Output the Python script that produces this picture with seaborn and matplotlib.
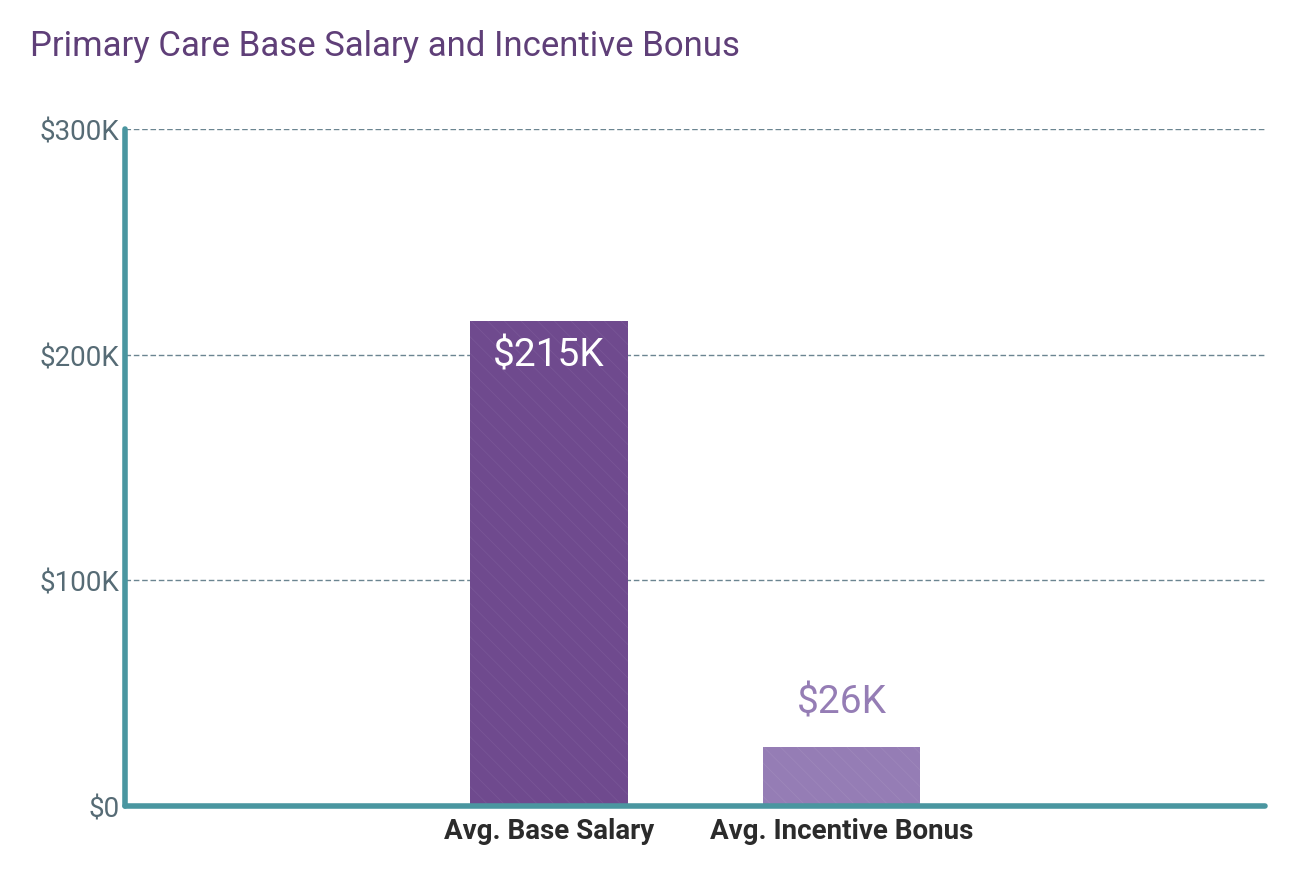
import matplotlib
matplotlib.use("Agg")
import matplotlib.pyplot as plt
import seaborn as sns
import pandas as pd

# --------------------------
# Data
# --------------------------

categories = ["Avg. Base Salary", "Avg. Incentive Bonus"]
values = [215000, 26000]
value_labels = ["$215K", "$26K"]
y_ticks = [0, 100000, 200000, 300000]
y_tick_labels = ["$0", "$100K", "$200K", "$300K"]

bar_colors = ["#6f4a8e", "#957db5"]
hatch_colors = ["#7a5797", "#9e88bb"]
teal = "#4a96a0"

df = pd.DataFrame({"Category": categories, "Value": values})

# --------------------------
# Style
# --------------------------

sns.set_style("white")
plt.rcParams["font.family"] = ["Roboto", "DejaVu Sans"]
plt.rcParams["hatch.linewidth"] = 0.5

fig = plt.figure(figsize=(12.9, 8.78), dpi=100)
ax = fig.add_axes([0.097, 0.081, 0.884, 0.771])

sns.barplot(
    data=df,
    x="Category",
    y="Value",
    hue="Category",
    palette=bar_colors,
    saturation=1,
    width=0.54,
    legend=False,
    ax=ax,
    zorder=3
)

# faint diagonal texture on the bars
for patch, hc in zip(ax.patches, hatch_colors):
    patch.set_hatch("\\\\")
    patch.set_edgecolor(hc)
    patch.set_linewidth(0)

ax.set_xlim(-1.45, 2.45)
ax.set_ylim(0, 300000)

ax.set_yticks(y_ticks)
ax.set_yticklabels(y_tick_labels, fontsize=20, color="#566b75")
ax.tick_params(axis="x", labelsize=20, colors="#2b2b2b", length=0, pad=8)
ax.tick_params(axis="y", length=0, pad=4)
for lbl in ax.get_xticklabels():
    lbl.set_fontweight("bold")

ax.set_xlabel("")
ax.set_ylabel("")

# gridlines
for t in y_ticks[1:]:
    ax.axhline(t, color="#6b8591", linestyle=(0, (4, 2)), linewidth=1, zorder=1)

# spines
for s in ["top", "right"]:
    ax.spines[s].set_visible(False)
for s in ["left", "bottom"]:
    ax.spines[s].set_color(teal)
    ax.spines[s].set_linewidth(4)
    ax.spines[s].set_capstyle("round")
    ax.spines[s].set_zorder(5)

# value labels
ax.text(0, values[0] - 15000, value_labels[0], ha="center", va="center",
        fontsize=28, color="white", zorder=6)
ax.text(1, values[1] + 20000, value_labels[1], ha="center", va="center",
        fontsize=28, color=bar_colors[1], zorder=6)

fig.text(0.023, 0.947, "Primary Care Base Salary and Incentive Bonus",
         fontsize=25, color="#5f3f78", ha="left", va="center")

fig.savefig("out.png", dpi=100)
